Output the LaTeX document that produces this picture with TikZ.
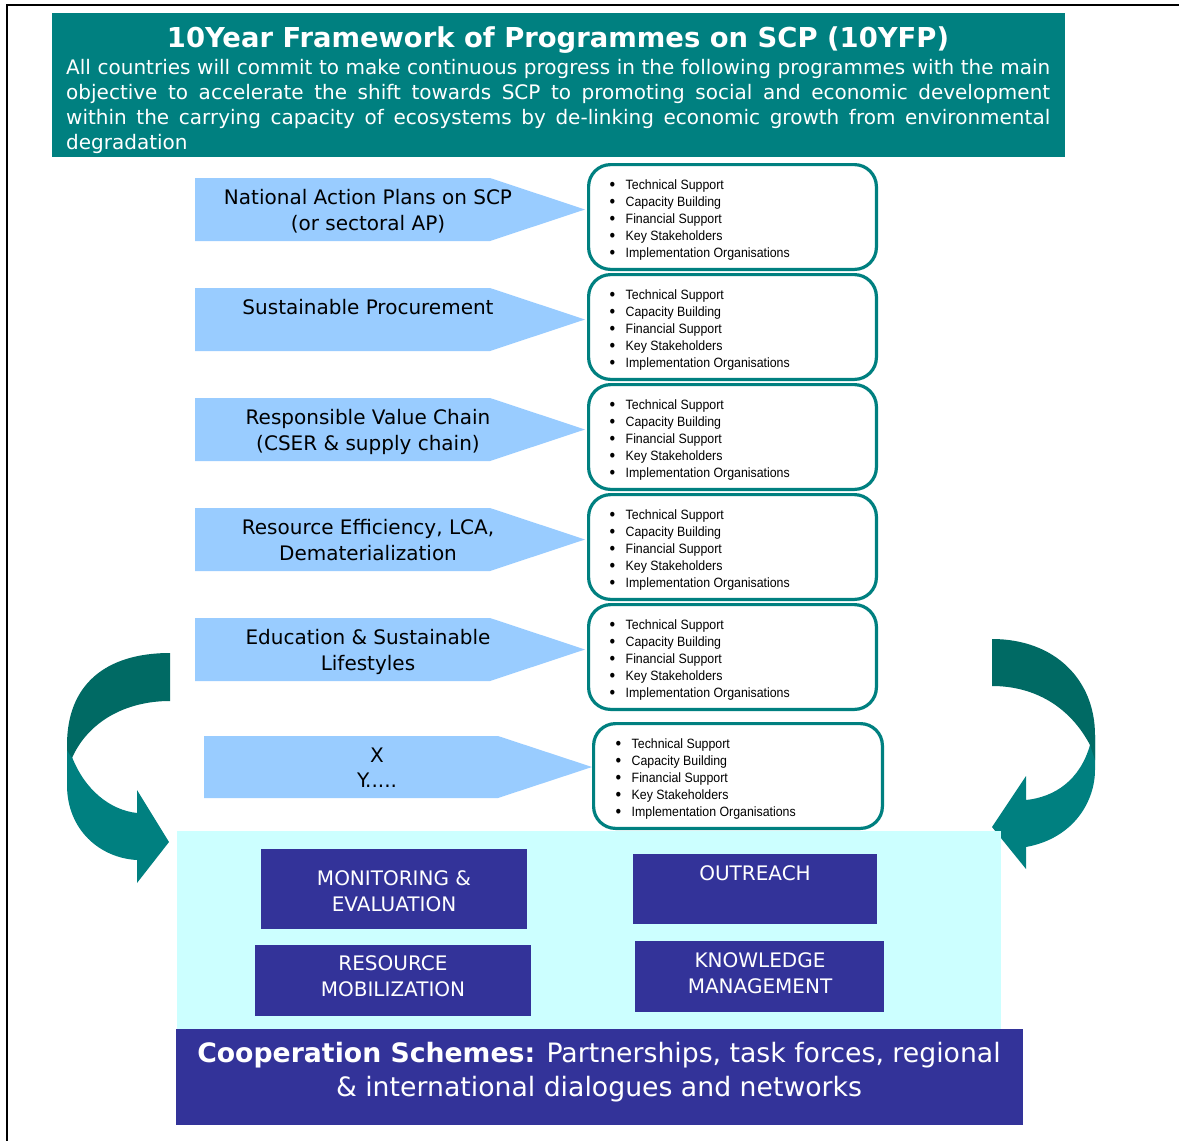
\documentclass[tikz,border=0pt]{standalone}
\usepackage{fontspec}
\setmainfont{DejaVu Sans}
\newfontfamily\bulfont[FakeStretch=0.915]{Liberation Sans}
\definecolor{teal1}{HTML}{008080}
\definecolor{tealdark}{HTML}{006A64}
\definecolor{lblue}{HTML}{99CCFF}
\definecolor{lcyan}{HTML}{CCFFFF}
\definecolor{navy1}{HTML}{333399}
\newcommand{\mybul}{\makebox[16pt][l]{\raisebox{-1.9pt}{\scalebox{1.3}{•}}}}
\newcommand{\myblist}{\mybul Technical Support\\
\mybul Capacity Building\\
\mybul Financial Support\\
\mybul Key Stakeholders\\
\mybul Implementation Organisations}
\begin{document}
\begin{tikzpicture}[x=1pt,y=-1pt,
  pent/.style={fill=lblue},
  lbl/.style={font=\fontsize{20}{25.5}\selectfont, align=center, inner sep=0pt, anchor=base},
  bbox/.style={draw=teal1, line width=3.2pt, rounded corners=22pt, fill=white, inner sep=0pt},
  blist/.style={font=\bulfont\fontsize{13.5}{17}\selectfont, align=left, inner sep=0pt, anchor=base west},
  nbox/.style={fill=navy1, inner sep=0pt},
  ntext/.style={text=white, font=\fontsize{20}{25.5}\selectfont, align=center, inner sep=0pt, anchor=base}
]
\useasboundingbox (0,0) rectangle (1179,1141);
\fill[white] (0,0) rectangle (1179,1141);
% frame lines
\draw[line width=2.2pt] (7,1141) -- (7,5) -- (1179,5);
% header
\node[fill=teal1, minimum width=1013pt, minimum height=144pt, inner sep=0pt, anchor=north west] (hdr) at (52,13) {};
\node[text=white, font=\bfseries\fontsize{27.4}{30}\selectfont, inner sep=0pt, anchor=base] (title) at (558,47.3) {10Year Framework of Programmes on SCP (10YFP)};
\node[text=white, font=\fontsize{20}{25.3}\selectfont, align=left, inner sep=0pt, anchor=base west] (body) at (66,149.9) {%
\makebox[984pt][s]{All countries will commit to make continuous progress in the following programmes with the main}\\
\makebox[984pt][s]{objective to accelerate the shift towards SCP to promoting social and economic development}\\
\makebox[984pt][s]{within the carrying capacity of ecosystems by de-linking economic growth from environmental}\\
degradation};
% curved arrows (drawn before the cyan panel)
\fill[teal1] (67,745) -- (67,785) .. controls (67,830) and (100,858) .. (137,860) -- (137,883) -- (169,842) -- (137,790) -- (137,813) .. controls (110,810) and (85,790) .. (72,757) -- cycle;
\fill[tealdark] (170,653) .. controls (105,653) and (67,685) .. (67,745) -- (67,750) -- (72,758) .. controls (88,722) and (125,701) .. (170,701) -- cycle;
\fill[teal1] (1095,735) -- (1095,770) .. controls (1095,800) and (1075,838) .. (1026,847) -- (1026,869) -- (992,827) -- (1026,776) -- (1026,800) .. controls (1055,797) and (1080,780) .. (1090,745) -- cycle;
\fill[tealdark] (992,639) .. controls (1055,639) and (1095,680) .. (1095,735) -- (1095,760) -- (1090,745) .. controls (1070,707) and (1035,686) .. (992,686) -- cycle;
% cyan panel
\node[fill=lcyan, minimum width=824pt, minimum height=200pt, inner sep=0pt, anchor=north west] (panel) at (177,831) {};
% programme rows (\b = baseline offset of the last label line)
\foreach \i/\t/\b/\txt in {1/178/52.1/{National Action Plans on SCP\\(or sectoral AP)},
                         2/288/26.6/{Sustainable Procurement},
                         3/398/52.1/{Responsible Value Chain\\(CSER \& supply chain)},
                         4/508/52.1/{Resource Efficiency, LCA,\\Dematerialization},
                         5/618/52.1/{Education \& Sustainable\\Lifestyles}}{
  \fill[pent] (195,\t) -- (490,\t) -- (585,\t+31.5) -- (490,\t+63) -- (195,\t+63) -- cycle;
  \node[lbl] (lab\i) at (368,\t+\b) {\txt};
  \node[bbox, minimum width=287.8pt, minimum height=104.8pt] (box\i) at (732.5,\t+39) {};
  \node[blist] (list\i) at (609.5,\t+79) {\myblist};
}
% row 6
\fill[pent] (204,736) -- (498,736) -- (592,767) -- (498,798) -- (204,798) -- cycle;
\node[lbl] (lab6) at (377,787.5) {X\\Y.....};
\node[bbox, minimum width=288.8pt, minimum height=104.8pt] (box6) at (738,776) {};
\node[blist] (list6) at (615.5,816) {\myblist};
% navy boxes
\node[nbox, minimum width=266pt, minimum height=80pt, anchor=north west] (mon) at (261,849) {};
\node[ntext] (montxt) at (394,911.3) {MONITORING \&\\EVALUATION};
\node[nbox, minimum width=244pt, minimum height=70pt, anchor=north west] (out) at (633,854) {};
\node[ntext] (outtxt) at (755,880.3) {OUTREACH};
\node[nbox, minimum width=276pt, minimum height=71pt, anchor=north west] (res) at (255,945) {};
\node[ntext] (restxt) at (393,996.3) {RESOURCE\\MOBILIZATION};
\node[nbox, minimum width=249pt, minimum height=71pt, anchor=north west] (kno) at (635,941) {};
\node[ntext] (knotxt) at (760,993.3) {KNOWLEDGE\\MANAGEMENT};
% cooperation
\node[nbox, minimum width=847pt, minimum height=96pt, anchor=north west] (coop) at (176,1029) {};
\node[text=white, font=\fontsize{26.7}{34}\selectfont, align=center, inner sep=0pt, anchor=base] (cooptxt) at (599,1096.7) {\textbf{Cooperation Schemes:} Partnerships, task forces, regional\\\& international dialogues and networks};
\end{tikzpicture}
\end{document}
